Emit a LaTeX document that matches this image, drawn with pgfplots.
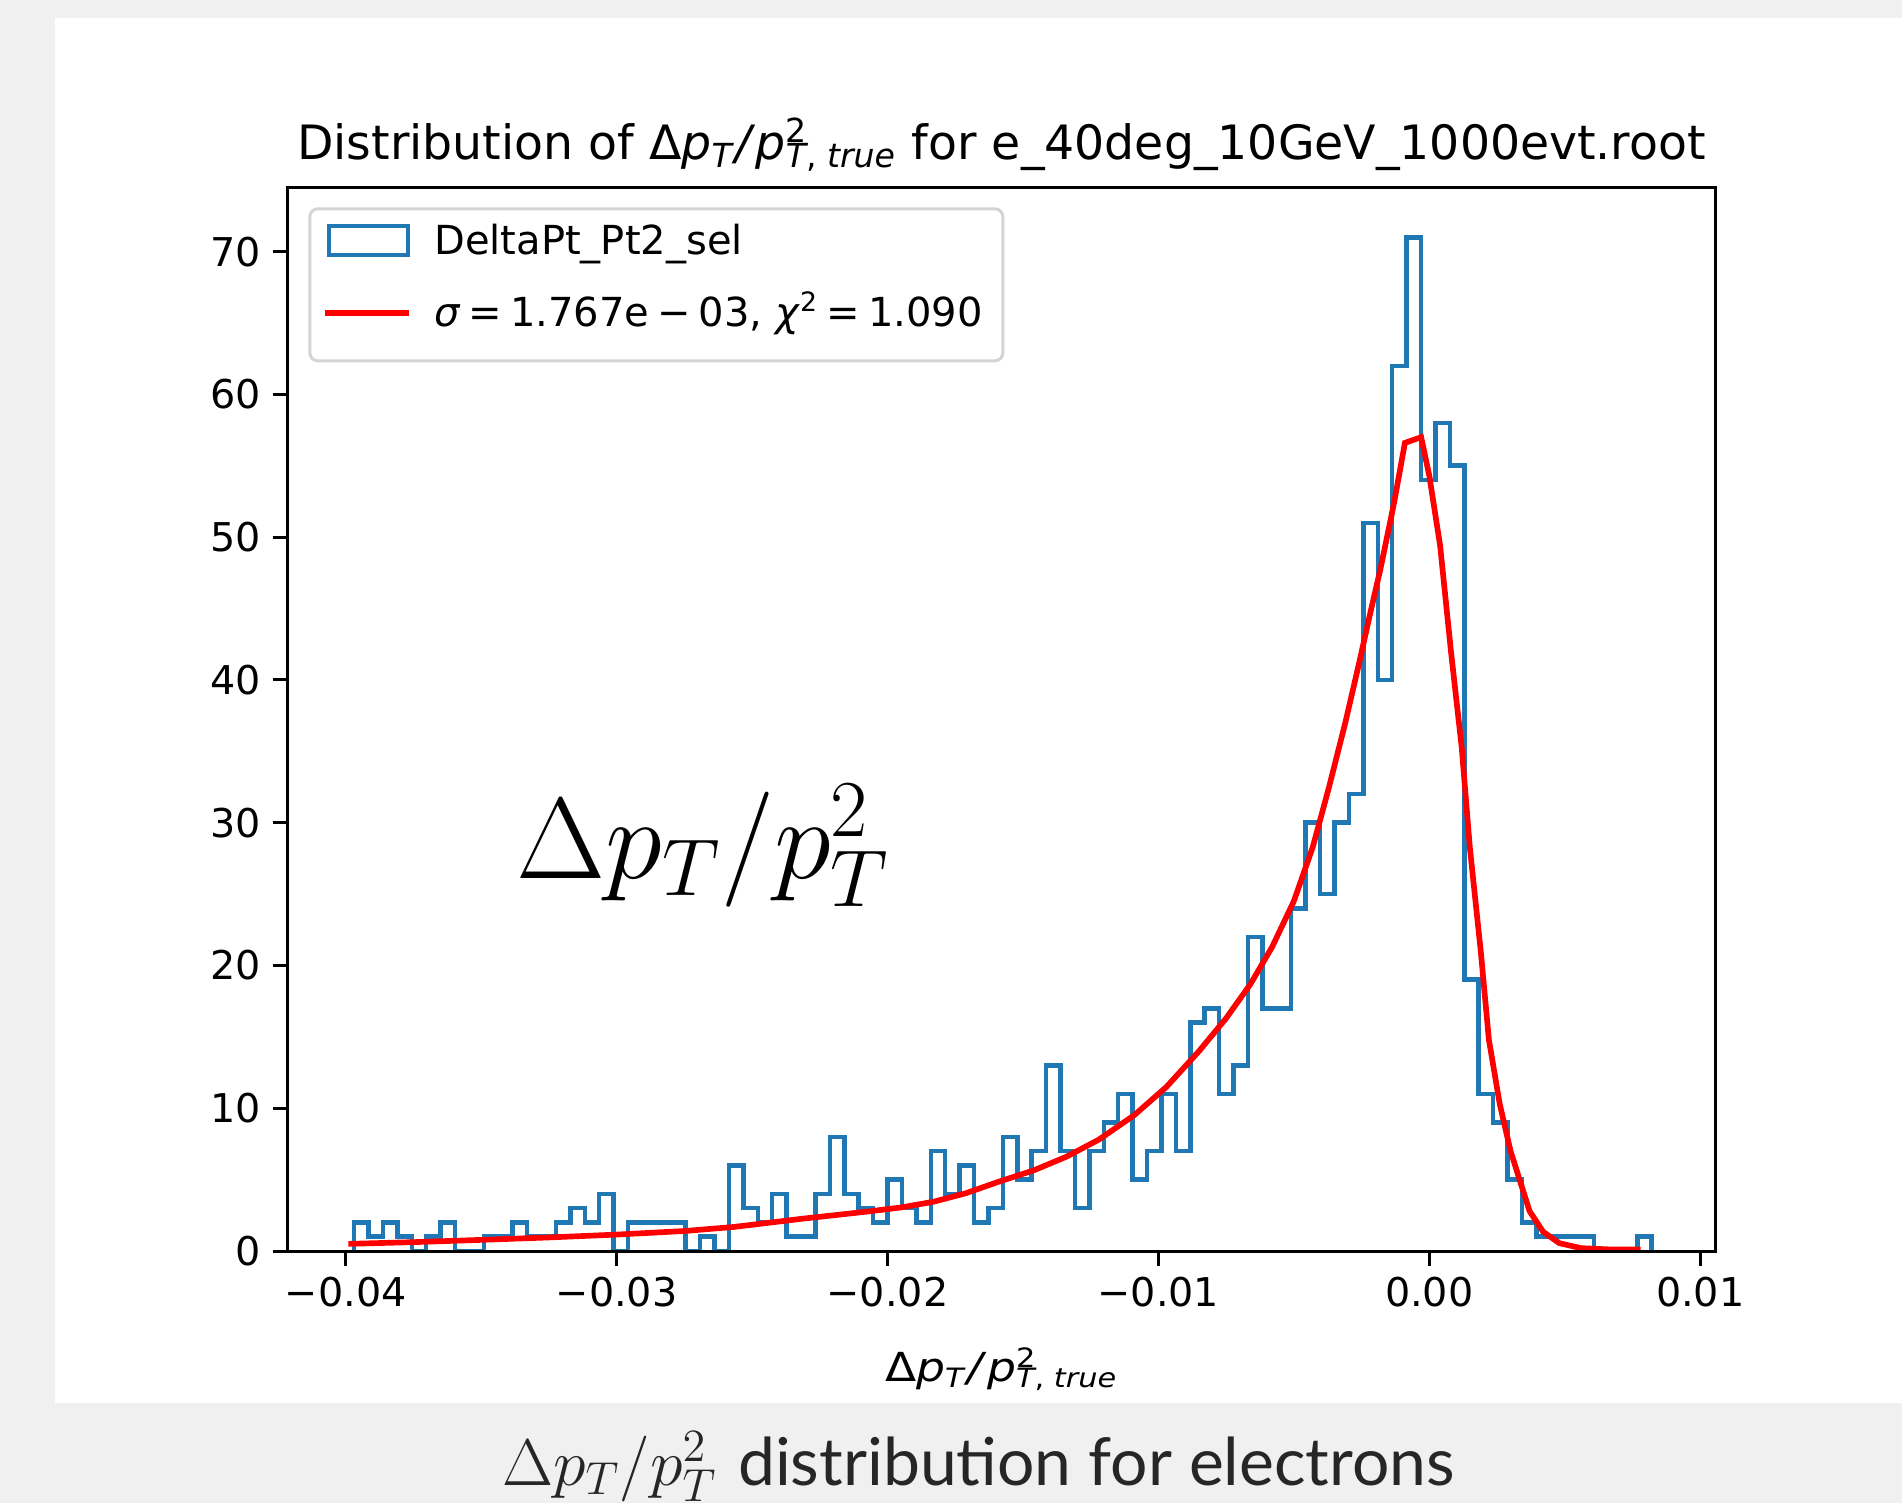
\RequirePackage{fix-cm}
\documentclass[border=0pt]{standalone}
\usepackage{fontspec}
\setmainfont{DejaVu Sans}
\newfontfamily\latofont{Lato}
\usepackage{graphicx}
\usepackage{pgfplots}
\pgfplotsset{compat=1.18}
\usepackage{pgfplotstable}

\definecolor{mplblue}{HTML}{1F77B4}
\definecolor{pagegray}{HTML}{F0F0F0}
\definecolor{legendedge}{HTML}{D4D4D4}

% mathtext-like label, DejaVu Sans
\newcommand{\dpt}{Δ\textit{p}\textsubscript{\textit{T}}\textit{/}\textit{p}\rlap{\textsuperscript{2}}\textsubscript{\textit{T}, \textit{true}}}

% histogram: left bin edges and counts (90 bins)
\pgfplotstableread{
x y
-0.039690 0
-0.039690 2
-0.039158 1
-0.038626 2
-0.038093 1
-0.037561 0
-0.037029 1
-0.036497 2
-0.035964 0
-0.035432 0
-0.034900 1
-0.034368 1
-0.033836 2
-0.033303 1
-0.032771 1
-0.032239 2
-0.031707 3
-0.031174 2
-0.030642 4
-0.030110 0
-0.029578 2
-0.029046 2
-0.028513 2
-0.027981 2
-0.027449 0
-0.026917 1
-0.026385 0
-0.025852 6
-0.025320 3
-0.024788 2
-0.024256 4
-0.023723 1
-0.023191 1
-0.022659 4
-0.022127 8
-0.021595 4
-0.021062 3
-0.020530 2
-0.019998 5
-0.019466 3
-0.018933 2
-0.018401 7
-0.017869 4
-0.017337 6
-0.016805 2
-0.016272 3
-0.015740 8
-0.015208 5
-0.014676 7
-0.014143 13
-0.013611 7
-0.013079 3
-0.012547 7
-0.012015 9
-0.011482 11
-0.010950 5
-0.010418 7
-0.009886 11
-0.009353 7
-0.008821 16
-0.008289 17
-0.007757 11
-0.007225 13
-0.006692 22
-0.006160 17
-0.005628 17
-0.005096 24
-0.004563 30
-0.004031 25
-0.003499 30
-0.002967 32
-0.002435 51
-0.001902 40
-0.001370 62
-0.000838 71
-0.000306 54
0.000227 58
0.000759 55
0.001291 19
0.001823 11
0.002355 9
0.002888 5
0.003420 2
0.003952 1
0.004484 1
0.005016 1
0.005549 1
0.006081 0
0.006613 0
0.007145 0
0.007678 1
0.008210 1
0.008210 0
}\histdata

% fitted curve
\pgfplotstableread{
x y
-0.0399 0.50
-0.0375 0.62
-0.0350 0.78
-0.0325 0.95
-0.0300 1.15
-0.0275 1.40
-0.0257 1.68
-0.0245 1.95
-0.0232 2.25
-0.0220 2.50
-0.0208 2.75
-0.0195 3.05
-0.0183 3.45
-0.0171 4.05
-0.0159 4.85
-0.0146 5.65
-0.0134 6.60
-0.0122 7.80
-0.0109 9.50
-0.0097 11.5
-0.0085 14.0
-0.0075 16.3
-0.0066 18.7
-0.0058 21.3
-0.0050 24.5
-0.0043 28.3
-0.0037 32.5
-0.0031 37.0
-0.0026 41.1
-0.0022 44.5
-0.0018 47.8
-0.0013 52.4
-0.0009 56.6
-0.0003 57.0
0.0000 54.3
0.0004 49.4
0.0008 42.0
0.0012 35.2
0.0015 28.2
0.0019 21.0
0.0022 14.8
0.0026 10.3
0.0030 7.0
0.0034 4.6
0.0037 2.8
0.0042 1.35
0.0048 0.55
0.0056 0.20
0.0068 0.10
0.0078 0.10
}\fitdata

\begin{document}
\begin{tikzpicture}[x=0.3pt,y=0.3pt]
\useasboundingbox (0,0) rectangle (1902,1503);
\fill[pagegray] (0,0) rectangle (1902,1503);
\fill[white] (55,100) rectangle (1902,1485);

\begin{axis}[
    at={(86.19pt,75.6pt)}, anchor=south west,
    scale only axis,
    width=428.6pt, height=319.1pt,
    xmin=-0.042156, xmax=0.010583,
    ymin=0, ymax=74.5,
    xtick={-0.04,-0.03,-0.02,-0.01,0,0.01},
    xticklabels={−0.04,−0.03,−0.02,−0.01,0.00,0.01},
    ytick={0,10,20,30,40,50,60,70},
    yticklabels={0,10,20,30,40,50,60,70},
    scaled x ticks=false,
    xtick pos=bottom, ytick pos=left,
    tick align=outside,
    major tick length=4.4pt,
    tick style={black, line width=0.9pt},
    axis line style={line width=0.9pt},
    axis on top,
    tick label style={font=\fontsize{11.9}{14}\selectfont},
    title={Distribution of \dpt{} for e\_40deg\_10GeV\_1000evt.root},
    title style={at={(axis description cs:0.5,1)}, anchor=base, yshift=2.2pt,
                 inner sep=0pt, font=\fontsize{14.2}{17}\selectfont},
    xlabel={\scalebox{1.14}[1]{\dpt}},
    xlabel style={at={(axis description cs:0.5,0)}, anchor=base, yshift=-39.2pt,
                  inner sep=0pt, font=\fontsize{12}{14}\selectfont},
    legend style={at={(0.0147,0.9812)}, anchor=north west,
                  draw=legendedge, line width=0.9pt, rounded corners=2.4pt,
                  fill=white, font=\fontsize{12}{14}\selectfont,
                  inner xsep=3.8pt, inner ysep=2pt, row sep=1.6pt,
                  nodes={anchor=base west, inner sep=0pt,
                         text height=11.7pt, text depth=8.3pt}},
]
\addplot[const plot mark left, mplblue, line width=1.35pt,
         legend image code/.code={
            \draw[mplblue, line width=1.2pt, sharp corners] (1.2pt,-0.3pt) rectangle (24.9pt,8.4pt);
            \path[draw=none] (0pt,0pt) -- (32.7pt,0pt);}]
    table {\histdata};
\addlegendentry{DeltaPt\_Pt2\_sel}

\addplot[red, line width=1.7pt,
         legend image code/.code={
            \draw[red, line width=1.8pt] (0pt,3.9pt) -- (25.2pt,3.9pt);
            \path[draw=none] (0pt,0pt) -- (32.7pt,0pt);}]
    table {\fitdata};
\addlegendentry{\textit{σ}\hspace{.2em}=\hspace{.2em}1.767e\hspace{.2em}−\hspace{.2em}03, \textit{χ}\textsuperscript{2}\hspace{.2em}=\hspace{.2em}1.090\hspace*{2.2pt}}
\end{axis}

\node[anchor=base west, inner sep=0pt] at (516,624.7)
    {\fontsize{34.6}{40}\selectfont$\Delta p_T/p_T^2$};

\node[anchor=base, inner sep=0pt, text=black!85] at (978.5,18)
    {\fontsize{19.8}{24}\selectfont$\Delta p_T/p_T^2$ \latofont distribution for electrons};
\end{tikzpicture}
\end{document}
